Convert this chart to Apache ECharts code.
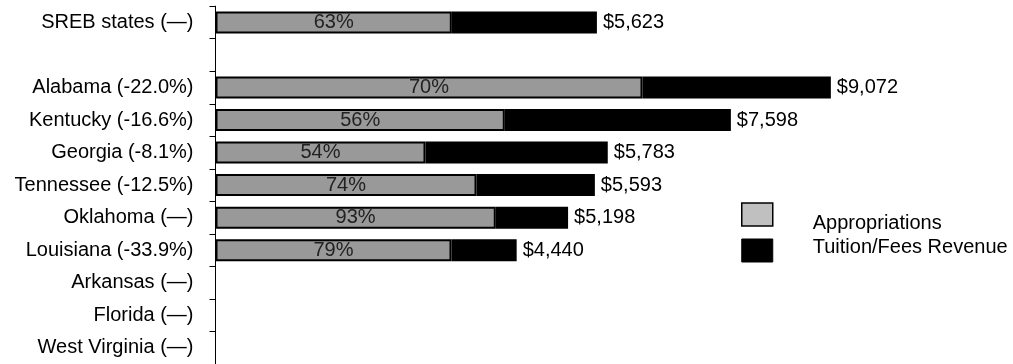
<!DOCTYPE html>
<html>
<head>
<meta charset="utf-8">
<script src="https://cdn.jsdelivr.net/npm/echarts@6/dist/echarts.min.js"></script>
<style>
html,body{margin:0;padding:0;background:#fff;}
#chart{width:1013px;height:364px;}
</style>
</head>
<body>
<div id="chart"></div>
<script>
const categories = ['SREB states (\u2014)', '', 'Alabama (-22.0%)', 'Kentucky (-16.6%)', 'Georgia (-8.1%)',
  'Tennessee (-12.5%)', 'Oklahoma (\u2014)', 'Louisiana (-33.9%)', 'Arkansas (\u2014)', 'Florida (\u2014)', 'West Virginia (\u2014)'];
const appropriations = [3484, null, 6295, 4265, 3096, 3848, 4132, 3479, null, null, null];
const tuitionFees = [2139, null, 2777, 3333, 2687, 1745, 1066, 961, null, null, null];
const totals = [5623, null, 9072, 7598, 5783, 5593, 5198, 4440, null, null, null];
const pctLabels = ['63%', '', '70%', '56%', '54%', '74%', '93%', '79%', '', '', ''];
const seriesNames = ['Appropriations', 'Tuition/Fees Revenue'];

const FONT = 'Liberation Sans, Arial, Helvetica, sans-serif';
const chart = echarts.init(document.getElementById('chart'));
chart.setOption({
  animation: false,
  backgroundColor: '#fff',
  textStyle: { fontFamily: FONT },
  grid: { left: 215.5, top: 6.2, width: 678.3, height: 360.8, containLabel: false },
  xAxis: { type: 'value', min: 0, max: 10000, show: false },
  yAxis: {
    type: 'category', data: categories, inverse: true,
    axisLine: { show: true, lineStyle: { color: '#000', width: 1 } },
    axisTick: { show: true, length: 6, interval: 0, lineStyle: { color: '#000' } },
    axisLabel: { interval: 0, margin: 22, color: '#000', fontSize: 20, fontFamily: FONT }
  },
  legend: {
    orient: 'vertical', left: 741, top: 196, padding: 0, itemWidth: 31, itemHeight: 23, itemGap: 4.5,
    icon: 'rect',
    formatter: name => (name === seriesNames[0] ? '{a|' : '{b|') + name + '}',
    textStyle: {
      fontSize: 20, color: '#000', fontFamily: FONT,
      rich: {
        a: { fontSize: 20, color: '#000', fontFamily: FONT, lineHeight: 24, padding: [17, 0, 0, 35] },
        b: { fontSize: 20, color: '#000', fontFamily: FONT, lineHeight: 24, padding: [0, 0, 6, 35] }
      }
    },
    data: [
      { name: seriesNames[0], itemStyle: { color: '#c0c0c0', borderColor: '#000', borderWidth: 1.5 } },
      { name: seriesNames[1], itemStyle: { color: '#000', borderColor: '#000', borderWidth: 1 } }
    ]
  },
  series: [
    {
      name: seriesNames[0], type: 'bar', stack: 'total', data: appropriations,
      barWidth: 22,
      itemStyle: { color: '#999999', borderColor: '#000', borderWidth: 2 },
      label: {
        show: true, position: 'inside', color: '#222', fontSize: 20, fontFamily: FONT,
        formatter: p => pctLabels[p.dataIndex]
      }
    },
    {
      name: seriesNames[1], type: 'bar', stack: 'total', data: tuitionFees,
      barWidth: 22,
      itemStyle: { color: '#000', borderColor: '#000', borderWidth: 2 },
      label: {
        show: true, position: 'right', distance: 6, color: '#000', fontSize: 20, fontFamily: FONT,
        formatter: p => totals[p.dataIndex] == null ? '' : '$' + totals[p.dataIndex].toLocaleString('en-US')
      }
    }
  ]
});
</script>
</body>
</html>
